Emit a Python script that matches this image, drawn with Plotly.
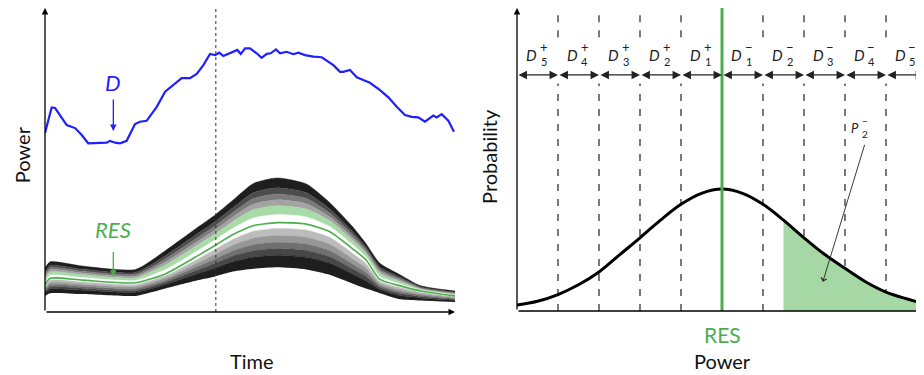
import plotly.graph_objects as go

# ---------------- data ----------------
d_time = [0, 0.39, 0.59, 1.27, 1.76, 2.15, 2.53, 3.22, 3.61, 3.80,
          4.10, 4.39, 4.78, 5.27, 5.56, 5.95, 6.54, 7.03, 7.51, 8.00,
          8.49, 8.88, 9.27, 9.66, 9.95, 10.20, 10.44, 10.83, 11.26, 11.46,
          11.71, 12.00, 12.39, 12.68, 12.98, 13.21, 13.52, 13.76, 14.15, 14.54,
          14.83, 15.22, 15.71, 16.20, 16.58, 16.88, 17.27, 17.46, 17.85, 18.25,
          18.63, 19.02, 19.61, 20.10, 20.59, 21.07, 21.47, 21.85, 22.24, 22.73,
          22.93, 23.22, 23.61, 23.94]
d_power = [58.9, 67.3, 67.1, 61.5, 60.5, 58.2, 55.5, 55.7, 55.7, 56.3,
           55.7, 55.5, 56.3, 61.8, 62.6, 62.9, 67.5, 72.5, 74.7, 76.9,
           76.9, 78.3, 81.2, 84.9, 84.5, 85.3, 84.2, 85.1, 86.2, 84.9,
           86.7, 86.7, 85.1, 83.6, 84.9, 85.1, 86.4, 85.1, 85.6, 84.8,
           85.3, 84.5, 84.0, 83.8, 82.3, 81.2, 79.0, 79.0, 79.6, 77.2,
           76.3, 75.4, 73.0, 70.6, 67.5, 64.8, 64.2, 64.0, 62.6, 64.6,
           64.0, 65.1, 62.9, 59.3]

fan_time = [0, 0.3, 2.2, 5.3, 7.1, 9.0, 9.9, 11.0, 12.2, 13.6, 15.3, 16.7, 18.0, 18.8, 19.6, 20.8, 22.0, 24.0]
fan_upper = [14.5, 16.5, 15.1, 14.0, 20.4, 28.1, 31.7, 36.8, 42.3, 44.1, 42.1, 35.8, 28.1, 22.4, 16.0, 12.2, 8.6, 6.9]
fan_median = [8.9, 11.1, 10.5, 9.6, 12.7, 18.7, 21.7, 25.5, 28.4, 29.4, 28.9, 26.3, 20.8, 17.1, 10.7, 8.6, 6.9, 5.3]
fan_lower = [5.3, 6.2, 5.9, 5.3, 7.8, 10.5, 11.6, 13.3, 14.2, 14.7, 14.0, 12.2, 9.4, 7.7, 6.2, 4.2, 3.8, 3.3]

# quantile band fractions (share of distance from median to envelope)
upper_fracs = [0.18, 0.38, 0.51, 0.64, 0.78, 1.0]
lower_fracs = [0.13, 0.29, 0.44, 0.58, 0.73, 1.0]
upper_colors = ["#ffffff", "#a9dba9", "#a3a3a3", "#7a7a7a", "#4c4c4c", "#1e1e1e"]
lower_colors = ["#ffffff", "#bcbcbc", "#979797", "#707070", "#474747", "#1e1e1e"]

cut_time = 10.0
d_label = (4.0, 75.6)
res_label = (4.0, 27.0)

bell_power = [-5, -4.5, -4, -3.5, -3, -2.5, -2, -1.5, -1, -0.5, 0,
              0.5, 1, 1.5, 2, 2.5, 3, 3.5, 4, 4.5, 5]
bell_prob = [0.010, 0.016, 0.027, 0.043, 0.064, 0.092, 0.120, 0.149, 0.175, 0.193, 0.200,
             0.193, 0.175, 0.149, 0.120, 0.093, 0.070, 0.048, 0.031, 0.020, 0.011]
bin_edges = [-5, -4, -3, -2, -1, 0, 1, 2, 3, 4, 5]
bin_names = [("5", "+"), ("4", "+"), ("3", "+"), ("2", "+"), ("1", "+"),
             ("1", "\u2212"), ("2", "\u2212"), ("3", "\u2212"), ("4", "\u2212"), ("5", "\u2212")]
shade_from = 1.5

FONT = "Lato"
GREEN = "#4cae4c"
BLUE = "#1f1fff"

# page offset (browser body margin) compensation, in px
OFF = 8
W, H = 924, 375


def px_x(p):
    return (p - OFF) / W


def px_y(p):
    return 1 - (p - OFF) / H


fig = go.Figure()

# ---------------- left panel ----------------
bounds = []
for f in reversed(lower_fracs):
    bounds.append([m - f * (m - l) for m, l in zip(fan_median, fan_lower)])
bounds.append(list(fan_median))
for f in upper_fracs:
    bounds.append([m + f * (u - m) for m, u in zip(fan_median, fan_upper)])
band_colors = list(reversed(lower_colors)) + upper_colors

line_shape = dict(shape="spline", smoothing=0.6)
fig.add_trace(go.Scatter(x=fan_time, y=bounds[0], mode="lines",
                         line=dict(width=0, **line_shape), xaxis="x", yaxis="y",
                         showlegend=False, hoverinfo="skip"))
for i in range(1, len(bounds)):
    fig.add_trace(go.Scatter(x=fan_time, y=bounds[i], mode="lines",
                             line=dict(width=0.5, color=band_colors[i - 1], **line_shape),
                             fill="tonexty", fillcolor=band_colors[i - 1],
                             xaxis="x", yaxis="y", showlegend=False, hoverinfo="skip"))
fig.add_trace(go.Scatter(x=fan_time, y=fan_median, mode="lines",
                         line=dict(width=1.6, color=GREEN, **line_shape),
                         xaxis="x", yaxis="y", showlegend=False))
fig.add_trace(go.Scatter(x=d_time, y=d_power, mode="lines",
                         line=dict(width=2.2, color=BLUE), xaxis="x", yaxis="y",
                         showlegend=False))
fig.add_trace(go.Scatter(x=[cut_time, cut_time], y=[0, 100], mode="lines",
                         line=dict(width=1, color="#333", dash="dot"),
                         xaxis="x", yaxis="y", showlegend=False))

# ---------------- right panel ----------------
YTOP2 = 0.4968
for e in bin_edges[1:-1]:
    if e == 0:
        continue
    for seg in ([0, 0.373], [0.449, 0.489]):
        fig.add_trace(go.Scatter(x=[e, e], y=seg, mode="lines",
                                 line=dict(width=1.2, color="#222", dash="7px,8px"),
                                 xaxis="x2", yaxis="y2", showlegend=False))

sx = [p for p in bell_power if p >= shade_from]
sy = [v for p, v in zip(bell_power, bell_prob) if p >= shade_from]
fig.add_trace(go.Scatter(x=sx, y=sy, mode="lines", line=dict(width=0, shape="spline"),
                         fill="tozeroy", fillcolor="#a6d8a6",
                         xaxis="x2", yaxis="y2", showlegend=False))
fig.add_trace(go.Scatter(x=bell_power, y=bell_prob, mode="lines",
                         line=dict(width=3, color="black", shape="spline"),
                         xaxis="x2", yaxis="y2", showlegend=False))
fig.add_trace(go.Scatter(x=[0, 0], y=[0, YTOP2], mode="lines",
                         line=dict(width=3, color=GREEN),
                         xaxis="x2", yaxis="y2", showlegend=False))

ann = []


def arrow(x0, y0, x1, y1, xr, yr, head=2, size=1.0, width=1.3, color="black", side="end"):
    ann.append(dict(x=x1, y=y1, ax=x0, ay=y0, xref=xr, yref=yr, axref=xr, ayref=yr,
                    showarrow=True, arrowhead=head, arrowsize=size, arrowwidth=width,
                    arrowcolor=color, arrowside=side, text=""))


def label(x, y, xr, yr, text, size, color="#111", angle=0, xs=0, ys=0):
    ann.append(dict(x=x, y=y, xref=xr, yref=yr, showarrow=False, text=text,
                    textangle=angle, xanchor="center", yanchor="middle",
                    xshift=xs, yshift=ys, borderpad=0,
                    font=dict(family=FONT, size=size, color=color)))


# axes arrows
arrow(0, 0, 24, 0, "x", "y")
arrow(0, 0, 0, 100, "x", "y")
arrow(-5, 0, 4.93, 0, "x2", "y2")
arrow(-5, 0, -5, YTOP2, "x2", "y2")

# D and RES labels with arrows
label(d_label[0], d_label[1], "x", "y", "<i>D</i>", 22, BLUE)
arrow(d_label[0], 70.4, d_label[0], 59.5, "x", "y", head=2, size=1, width=1.3, color=BLUE)
label(res_label[0], res_label[1], "x", "y", "<i>RES</i>", 22, GREEN)
arrow(res_label[0], 20.2, res_label[0], 11.6, "x", "y", head=2, size=1, width=1.3, color=GREEN)

# bin double arrows and labels
for i in range(len(bin_edges) - 1):
    a, b = bin_edges[i], min(bin_edges[i + 1], 4.93)
    arrow(a, 0.387, b, 0.387, "x2", "y2", head=2, size=1.3, width=1.3, color="#222", side="end+start")
    mid = (bin_edges[i] + bin_edges[i + 1]) / 2
    sub, sup = bin_names[i]
    label(mid, 0.42, "x2", "y2", "<i>D</i>", 15, "#222", xs=-6)
    label(mid, 0.42, "x2", "y2", sup, 13, "#222", xs=6, ys=8)
    label(mid, 0.42, "x2", "y2", sub, 11, "#222", xs=6, ys=-7)

# P2- annotation
label(3.33, 0.300, "x2", "y2", "<i>P</i>", 13, "#222", xs=-4)
label(3.33, 0.300, "x2", "y2", "\u2212", 10, "#222", xs=6, ys=7)
label(3.33, 0.300, "x2", "y2", "2", 10, "#222", xs=6, ys=-6)
arrow(3.49, 0.275, 2.46, 0.048, "x2", "y2", head=4, size=1.2, width=0.9, color="#222")

# axis titles
label(px_x(22), 51.6, "paper", "y", "Power", 20, angle=-90)
label(12.1, px_y(361), "x", "paper", "Time", 20)
label(px_x(489), 0.2526, "paper", "y2", "Probability", 20, angle=-90)
label(0, px_y(334), "x2", "paper", "RES", 21, GREEN)
label(0, px_y(361), "x2", "paper", "Power", 20)

ax_common = dict(showgrid=False, zeroline=False, showticklabels=False, ticks="",
                 showline=False, fixedrange=True)
fig.update_layout(
    width=W, height=H, margin=dict(l=0, r=0, t=0, b=0),
    paper_bgcolor="white", plot_bgcolor="white",
    xaxis=dict(domain=[px_x(45), px_x(455)], range=[0, 24], **ax_common),
    yaxis=dict(domain=[px_y(312), px_y(8)], range=[0, 100], **ax_common),
    xaxis2=dict(domain=[px_x(517), px_x(924)], range=[-5, 4.927], anchor="y2", **ax_common),
    yaxis2=dict(domain=[px_y(311), px_y(8)], range=[0, YTOP2], anchor="x2", **ax_common),
    annotations=ann,
    showlegend=False,
)

fig.write_html("out.html")
